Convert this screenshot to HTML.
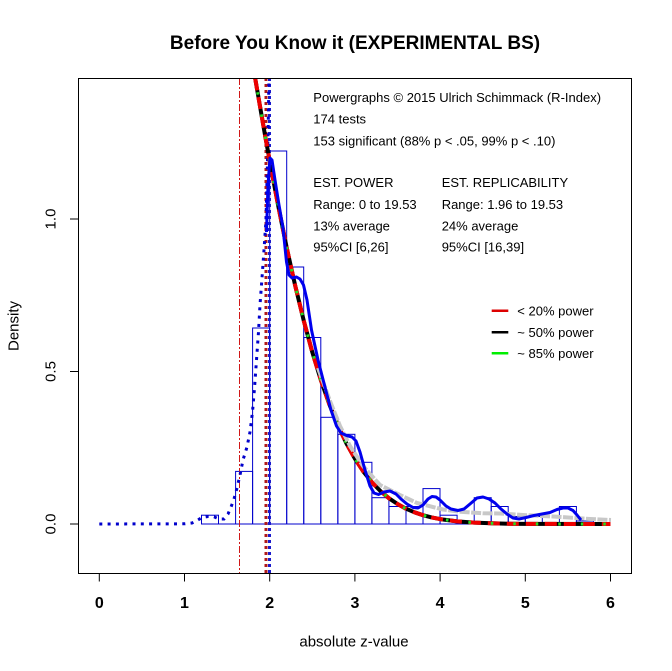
<!DOCTYPE html>
<html>
<head>
<meta charset="utf-8">
<style>
html,body{margin:0;padding:0;background:#fff;}
svg{display:block;}
text{font-family:"Liberation Sans",Arial,sans-serif;fill:#000;}
</style>
</head>
<body>
<svg width="672" height="671" viewBox="0 0 672 671" xmlns="http://www.w3.org/2000/svg">
<defs>
<clipPath id="pc"><rect x="78.5" y="78.5" width="553" height="495"/></clipPath>
</defs>
<rect x="0" y="0" width="672" height="671" fill="#fff"/>

<!-- Title -->
<text x="355" y="49" font-size="19" font-weight="bold" text-anchor="middle">Before You Know it (EXPERIMENTAL BS)</text>

<g clip-path="url(#pc)">
<!-- Histogram -->
<g fill="none" stroke="#0000cc" stroke-width="1">
<line x1="201.5" y1="524" x2="594" y2="524"/>
<rect x="201.5" y="515.2" width="17" height="8.8"/>
<rect x="235.6" y="471.4" width="17" height="52.6"/>
<rect x="252.6" y="328" width="17" height="196"/>
<rect x="269.7" y="151" width="17" height="373"/>
<rect x="286.7" y="267" width="17" height="257"/>
<rect x="303.8" y="337.5" width="17" height="186.5"/>
<rect x="320.8" y="417.3" width="17" height="106.7"/>
<rect x="337.9" y="434.3" width="17" height="89.7"/>
<rect x="354.9" y="462.3" width="17" height="61.7"/>
<rect x="371.9" y="497.7" width="17" height="26.3"/>
<rect x="389" y="506.5" width="17" height="17.5"/>
<rect x="406" y="506.5" width="17" height="17.5"/>
<rect x="423" y="488.6" width="17" height="35.4"/>
<rect x="440.1" y="515.2" width="17" height="8.8"/>
<rect x="474.2" y="497.7" width="17" height="26.3"/>
<rect x="491.2" y="506.5" width="17" height="17.5"/>
<rect x="508.3" y="516.5" width="17" height="7.5"/>
<rect x="525.3" y="516.5" width="17" height="7.5"/>
<rect x="559.4" y="506.5" width="17" height="17.5"/>
<rect x="576.4" y="521" width="17" height="3"/>
</g>

<!-- Vertical reference lines -->
<line x1="239.5" y1="78" x2="239.5" y2="574" stroke="#d01818" stroke-width="1" stroke-dasharray="7 2 2 2"/>
<line x1="266" y1="78" x2="266" y2="574" stroke="#b01a1a" stroke-width="3" stroke-dasharray="3 3"/>
<line x1="269.5" y1="78" x2="269.5" y2="574" stroke="#1a1acc" stroke-width="3" stroke-dasharray="3 3"/>

<!-- Blue dotted kernel -->
<polyline fill="none" stroke="#0000cc" stroke-width="3" stroke-dasharray="3 5.3" points="99.3,524 185,523.8 192,523 197,520.5 202,517.5 208,516.5 214,516.8 219,519 224,519 228,514 231,507 234,499 237,488 240,475 243,460 247,447 250,432 252.5,412 254.5,388 256.5,360 258.5,332 260,305 262,278 264,250 266,220 267.3,170 268.3,120 269,78"/>

<!-- Fitted curves -->
<g fill="none" stroke-linejoin="round">
<polyline stroke="#000" stroke-width="4" points="255.2,78.4 256.9,88.3 261.2,113.2 265.4,137.3 269.7,160.8 274,183.7 278.2,205.8 286.7,247.7 295.3,286.1 303.8,320.9 312.3,352.2 320.8,379.9 329.3,404.2 337.9,425.3 346.4,443.4 354.9,458.7 363.4,471.6 371.9,482.3 380.5,491.1 389,498.3 397.5,504 406,508.7 414.5,512.3 423,515.2 431.6,517.4 440.1,519.1 457.1,521.4 474.2,522.6 491.2,523.3 508.3,523.7 525.3,523.9 610.5,524"/>
<polyline stroke="#ee0000" stroke-width="4" stroke-dasharray="12 7" points="255.2,78.4 256.9,88.3 261.2,113.2 265.4,137.3 269.7,160.8 274,183.7 278.2,205.8 286.7,247.7 295.3,286.1 303.8,320.9 312.3,352.2 320.8,379.9 329.3,404.2 337.9,425.3 346.4,443.4 354.9,458.7 363.4,471.6 371.9,482.3 380.5,491.1 389,498.3 397.5,504 406,508.7 414.5,512.3 423,515.2 431.6,517.4 440.1,519.1 457.1,521.4 474.2,522.6 491.2,523.3 508.3,523.7 525.3,523.9 610.5,524"/>
<polyline stroke="#22dd22" stroke-width="3" stroke-dasharray="2.5 20" stroke-dashoffset="-14" points="255.2,78.4 256.9,88.3 261.2,113.2 265.4,137.3 269.7,160.8 274,183.7 278.2,205.8 286.7,247.7 295.3,286.1 303.8,320.9 312.3,352.2 320.8,379.9 329.3,404.2 337.9,425.3 346.4,443.4 354.9,458.7 363.4,471.6 371.9,482.3 380.5,491.1 389,498.3 397.5,504 406,508.7 414.5,512.3 423,515.2 431.6,517.4 440.1,519.1 457.1,521.4 474.2,522.6 491.2,523.3 508.3,523.7 525.3,523.9 610.5,524"/>
</g>

<!-- Gray curve -->
<polyline fill="none" stroke="#c8c8c8" stroke-width="4" stroke-linejoin="round" stroke-dasharray="10 1.5" points="318,368 330,401 340,426 350,446 363,466 380,485 400,495 417,503 443,509.5 460,511.7 483,513.3 500,513.5 523,515 557,516.7 590,519 611,520"/>

<!-- Blue solid kernel -->
<polyline fill="none" stroke="#0000ee" stroke-width="3" stroke-linejoin="round" points="266.5,232 268,185 270,158 272,160 275,180 279,205 283,228 286.5,262 289,275 292,278 296.5,277 300,279 303.5,285 307,300 311.5,330 318,360 326.5,393 331,410 336.5,426 341,433 346.5,435.5 352,437 356,441 360,452 365,470 370,486 374,493 378.5,494.5 384,492 390,491 396,494 401,499 407,504 413,507.5 418,508 423,505 428,499 432,496.5 436,497 440,500 446,506 451,509 458,510.5 464,509 470,504 477,498 483,497 489,499 495,503 501,509 507,514 513,518 519,519 526,517.5 534,515.5 542,514 550,512.5 557,509.5 563,508 568,508 573,510.5 577,515 581,520"/>
</g>

<!-- Plot box -->
<rect x="78.5" y="78.5" width="553" height="495" fill="none" stroke="#000" stroke-width="1"/>

<!-- Axis ticks -->
<g stroke="#000" stroke-width="1">
<line x1="99.3" y1="573.5" x2="99.3" y2="581.5"/>
<line x1="184.5" y1="573.5" x2="184.5" y2="581.5"/>
<line x1="269.7" y1="573.5" x2="269.7" y2="581.5"/>
<line x1="354.9" y1="573.5" x2="354.9" y2="581.5"/>
<line x1="440.1" y1="573.5" x2="440.1" y2="581.5"/>
<line x1="525.3" y1="573.5" x2="525.3" y2="581.5"/>
<line x1="610.5" y1="573.5" x2="610.5" y2="581.5"/>
<line x1="70" y1="524" x2="78.5" y2="524"/>
<line x1="70" y1="371.5" x2="78.5" y2="371.5"/>
<line x1="70" y1="219" x2="78.5" y2="219"/>
</g>
<g font-size="16" font-weight="bold" text-anchor="middle">
<text x="99.3" y="608">0</text>
<text x="184.5" y="608">1</text>
<text x="269.7" y="608">2</text>
<text x="354.9" y="608">3</text>
<text x="440.1" y="608">4</text>
<text x="525.3" y="608">5</text>
<text x="610.5" y="608">6</text>
</g>
<g font-size="15" text-anchor="middle">
<text x="55.5" y="524" transform="rotate(-90 55.5 524)">0.0</text>
<text x="55.5" y="371.5" transform="rotate(-90 55.5 371.5)">0.5</text>
<text x="55.5" y="219" transform="rotate(-90 55.5 219)">1.0</text>
<text x="18.5" y="326" transform="rotate(-90 18.5 326)">Density</text>
<text x="354" y="646.5">absolute z-value</text>
</g>

<!-- Info text -->
<g font-size="13">
<text x="313.3" y="102">Powergraphs © 2015 Ulrich Schimmack (R-Index)</text>
<text x="313.3" y="123.5">174 tests</text>
<text x="313.3" y="145.5">153 significant (88% p &lt; .05, 99% p &lt; .10)</text>
<text x="313.3" y="187">EST. POWER</text>
<text x="313.3" y="209">Range: 0 to 19.53</text>
<text x="313.3" y="230.5">13% average</text>
<text x="313.3" y="251.5">95%CI [6,26]</text>
<text x="441.7" y="187">EST. REPLICABILITY</text>
<text x="441.7" y="209">Range: 1.96 to 19.53</text>
<text x="441.7" y="230.5">24% average</text>
<text x="441.7" y="251.5">95%CI [16,39]</text>
</g>

<!-- Legend -->
<g stroke-width="2.5">
<line x1="491.7" y1="310.7" x2="508.3" y2="310.7" stroke="#dd0000"/>
<line x1="491.7" y1="332.3" x2="508.3" y2="332.3" stroke="#000"/>
<line x1="491.7" y1="353.3" x2="508.3" y2="353.3" stroke="#00ee00"/>
</g>
<g font-size="13">
<text x="517.3" y="315.3">&lt; 20% power</text>
<text x="517.3" y="336.9">~ 50% power</text>
<text x="517.3" y="357.9">~ 85% power</text>
</g>
</svg>
</body>
</html>
